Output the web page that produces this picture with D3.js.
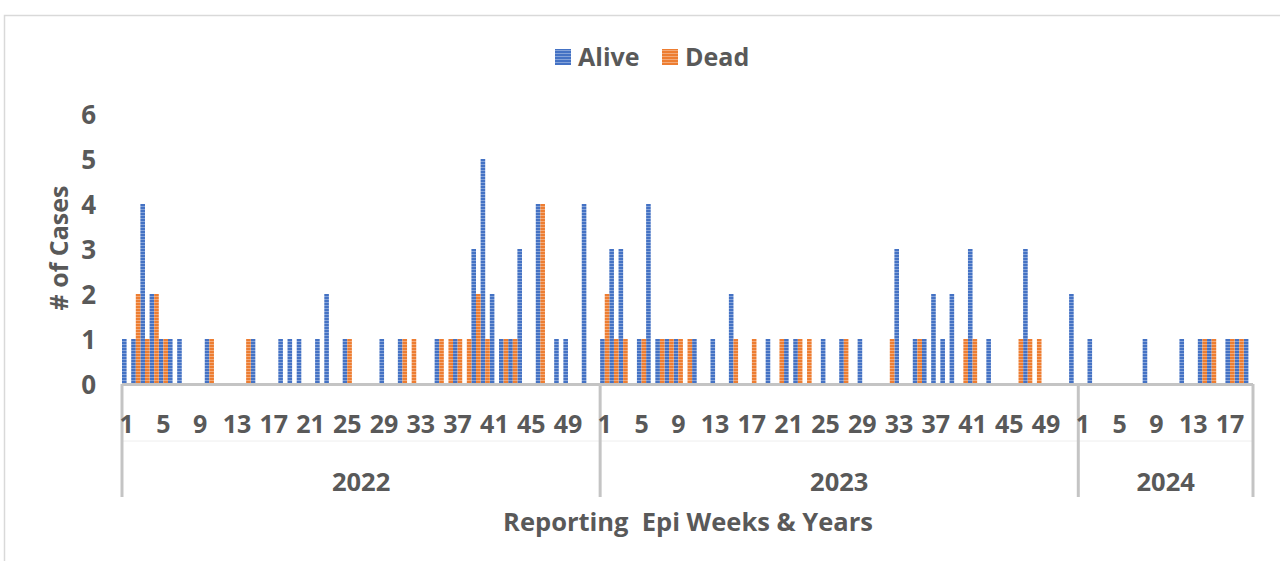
<!DOCTYPE html>
<html>
<head>
<meta charset="utf-8">
<script src="https://cdn.jsdelivr.net/npm/d3@7"></script>
<style>
    body { margin: 0; background: #fff; }
    text { font-family: "Open Sans", "Noto Sans", sans-serif; font-weight: 700; fill: #595959; }
</style>
</head>
<body>
<svg id="chart" width="1280" height="561"></svg>
<script>
// data, one value per epi week
var years = ["2022", "2023", "2024"];
var alive2022 = [1,1,4,2,1,1,1,0,0,1, 0,0,0,0,1,0,0,1,1,1, 0,1,2,0,1,0,0,0,1,0, 1,0,0,0,1,0,1,0,3,5, 2,1,1,3,0,4,0,1,1,0, 4,0];
var dead2022  = [0,2,1,2,1,0,0,0,0,1, 0,0,0,1,0,0,0,0,0,0, 0,0,0,0,1,0,0,0,0,0, 1,1,0,0,1,1,1,1,2,1, 0,1,1,0,0,4,0,0,0,0, 0,0];
var alive2023 = [1,3,3,0,1,4,1,1,1,0, 1,0,1,0,2,0,0,0,1,0, 1,1,0,0,1,0,1,0,1,0, 0,0,3,0,1,1,2,1,2,0, 3,0,1,0,0,0,3,0,0,0, 0,2];
var dead2023  = [2,1,1,0,1,0,1,1,1,1, 0,0,0,0,1,0,1,0,0,1, 0,1,1,0,0,0,1,0,0,0, 0,1,0,0,1,0,0,0,0,1, 1,0,0,0,0,1,1,1,0,0, 0,0];
var alive2024 = [0,1,0,0,0,0,0,1,0,0, 0,1,0,1,1,0,1,1,1];
var dead2024  = [0,0,0,0,0,0,0,0,0,0, 0,0,0,1,1,0,1,1,0];
var series = ["Alive", "Dead"];
var yTicks = [0, 1, 2, 3, 4, 5, 6];

(function() {
    var couleurs = { Alive: "#4472C4", Dead: "#ED7D31" };
    var parAnnee = {
        "2022": { Alive: alive2022, Dead: dead2022 },
        "2023": { Alive: alive2023, Dead: dead2023 },
        "2024": { Alive: alive2024, Dead: dead2024 }
    };

    // une ligne par semaine
    var rows = [];
    years.forEach(function(an) {
        parAnnee[an].Alive.forEach(function(v, i) {
            rows.push({ key: an + "-" + (i + 1), year: an, week: i + 1, Alive: v, Dead: parAnnee[an].Dead[i] });
        });
    });

    var svg = d3.select("#chart"),
        left = 122, right = 1253, top = 114, bottom = 384;

    var x = d3.scaleBand().domain(rows.map(function(d) { return d.key; })).range([left, right]).padding(0);
    var xs = d3.scaleBand().domain(series).range([0, x.bandwidth()]).padding(0);
    var y = d3.scaleLinear().domain([0, 6]).range([bottom, top]);

    // cadre
    svg.append("rect").attr("x", 4.5).attr("y", 15.5).attr("width", 1300).attr("height", 600)
        .attr("fill", "#fff").attr("stroke", "#d9d9d9").attr("stroke-width", 1.5);

    // motifs rayés des barres
    var defs = svg.append("defs");
    series.forEach(function(s) {
        var p = defs.append("pattern").attr("id", "pat-" + s).attr("patternUnits", "userSpaceOnUse")
            .attr("width", 4).attr("height", 3);
        p.append("rect").attr("width", 4).attr("height", 3).attr("fill", couleurs[s]);
        p.append("rect").attr("y", 2).attr("width", 4).attr("height", 1).attr("fill", "#fff").attr("opacity", 0.35);
    });

    // barres
    var g = svg.append("g");
    series.forEach(function(s) {
        g.selectAll(".bar-" + s).data(rows.filter(function(d) { return d[s] > 0; }))
            .enter().append("rect")
            .attr("x", function(d) { return x(d.key) + xs(s); })
            .attr("y", function(d) { return y(d[s]); })
            .attr("width", xs.bandwidth())
            .attr("height", function(d) { return y(0) - y(d[s]); })
            .attr("fill", "url(#pat-" + s + ")");
    });

    // axe Y
    var yAxis = svg.append("g").attr("transform", "translate(96,0)")
        .call(d3.axisLeft(y).tickValues(yTicks).tickFormat(d3.format("d")).tickSize(0).tickPadding(0));
    yAxis.select(".domain").remove();
    yAxis.attr("font-family", null).attr("font-size", null);
    yAxis.selectAll("text").style("font-size", "26px").attr("dy", "0.35em");

    svg.append("text").attr("transform", "translate(68,248) rotate(-90)")
        .attr("text-anchor", "middle").style("font-size", "25px").text("# of Cases");

    // axe X : ligne de base
    svg.append("line").attr("x1", left).attr("x2", right).attr("y1", bottom + 0.5).attr("y2", bottom + 0.5)
        .attr("stroke", "#c4c4c4").attr("stroke-width", 3);
    svg.append("line").attr("x1", left).attr("x2", right).attr("y1", 441).attr("y2", 441)
        .attr("stroke", "#eeeeee").attr("stroke-width", 1);

    // séparateurs d'années
    var bornes = years.map(function(an) { return x(an + "-1"); }).concat([right]);
    svg.selectAll(".sep").data(bornes).enter().append("line")
        .attr("x1", function(d) { return d; }).attr("x2", function(d) { return d; })
        .attr("y1", bottom).attr("y2", 497)
        .attr("stroke", "#c4c4c4").attr("stroke-width", 3);

    // semaines 1, 5, 9...
    var xAxis = svg.append("g").attr("transform", "translate(0," + 433 + ")")
        .call(d3.axisBottom(x)
            .tickValues(rows.filter(function(d) { return (d.week - 1) % 4 === 0; }).map(function(d) { return d.key; }))
            .tickFormat(function(k) { return k.split("-")[1]; })
            .tickSize(0).tickPadding(0));
    xAxis.select(".domain").remove();
    xAxis.attr("font-family", null).attr("font-size", null);
    xAxis.selectAll("text").attr("dy", 0).attr("y", 0).style("font-size", "25px");

    // années
    svg.selectAll(".annee").data(years).enter().append("text")
        .attr("x", function(an, i) { return (bornes[i] + bornes[i + 1]) / 2; })
        .attr("y", 491).attr("text-anchor", "middle").style("font-size", "25.5px")
        .text(function(d) { return d; });

    svg.append("text").attr("x", 688).attr("y", 531).attr("text-anchor", "middle")
        .style("font-size", "25.5px").attr("xml:space", "preserve").text("Reporting  Epi Weeks & Years");

    // légende
    var leg = svg.append("g");
    var lx = [555, 662];
    series.forEach(function(s, i) {
        leg.append("rect").attr("x", lx[i]).attr("y", 49).attr("width", 16).attr("height", 16)
            .attr("fill", "url(#pat-" + s + ")");
        leg.append("text").attr("x", lx[i] + 23).attr("y", 66).style("font-size", "25px").text(s);
    });
})();
</script>
</body>
</html>
